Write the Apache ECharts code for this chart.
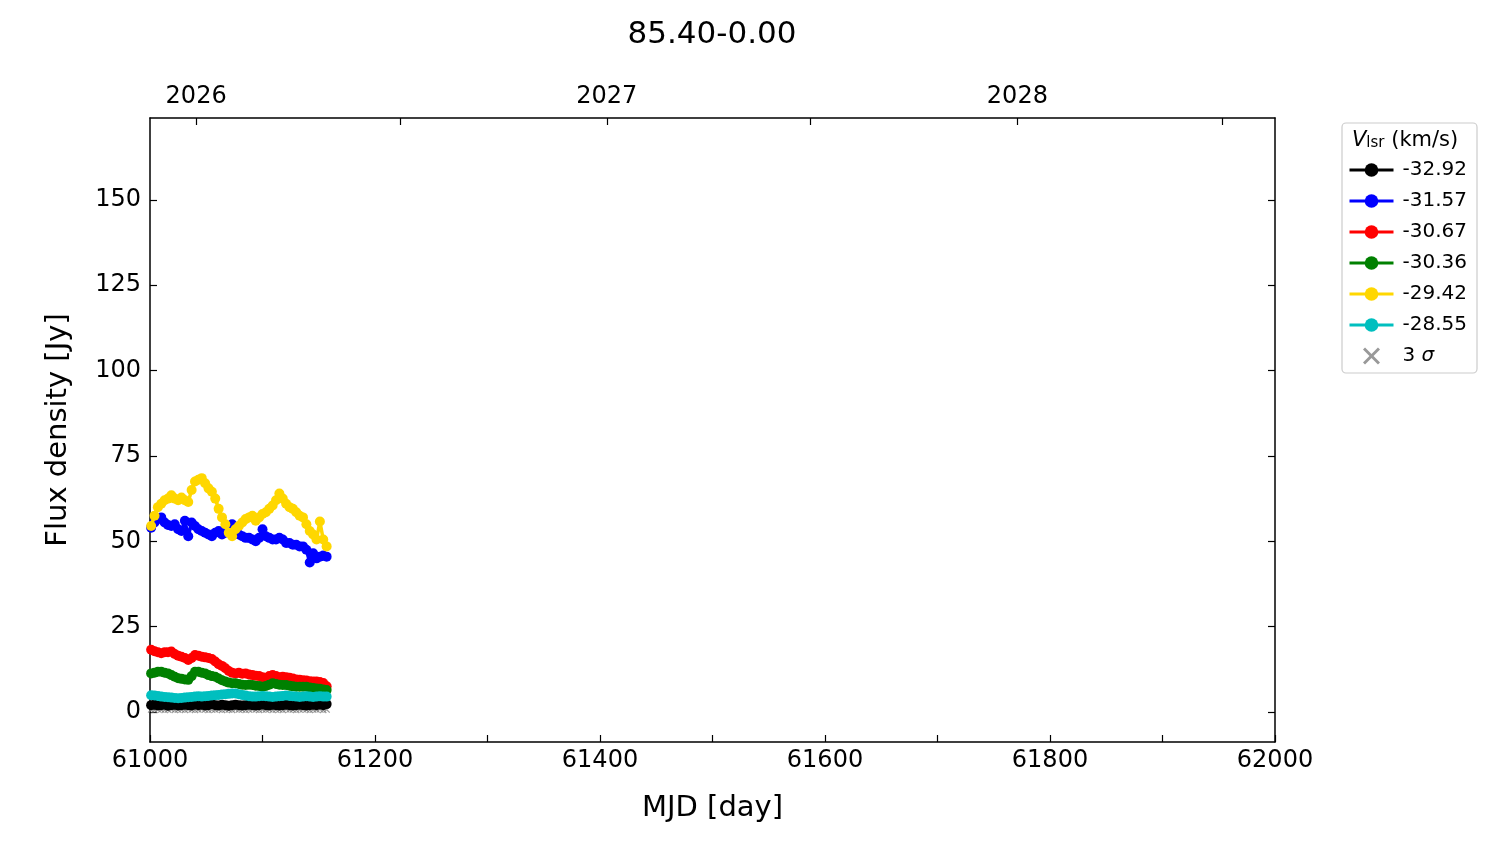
<!DOCTYPE html>
<html>
<head>
<meta charset="utf-8">
<script src="https://cdn.jsdelivr.net/npm/echarts@6/dist/echarts.min.js"></script>
<style>html,body{margin:0;padding:0;background:#fff;}#c{width:1500px;height:844px;}</style>
</head>
<body>
<div id="c"></div>
<script>
const mjd = [61001,61004,61007,61010,61013,61016,61019,61022,61025,61028,61031,61034,61037,61040,61043,61046,61049,61052,61055,61058,61061,61064,61067,61070,61073,61076,61079,61082,61085,61088,61091,61094,61097,61100,61103,61106,61109,61112,61115,61118,61121,61124,61127,61130,61133,61136,61139,61142,61145,61148,61151,61154,61157];

const v_m32_92 = [2.0,2.1,1.9,2.0,2.2,1.8,2.0,2.1,1.9,2.0,2.1,2.0,1.9,2.2,2.0,2.1,1.9,2.0,2.3,2.0,1.9,2.1,2.0,1.8,2.0,2.1,2.0,1.9,2.0,2.1,2.0,1.9,2.0,2.2,2.0,1.9,2.1,2.0,1.9,2.0,2.1,2.0,1.9,2.0,2.1,2.0,1.9,2.0,2.1,2.0,2.2,2.0,2.3];
const v_m31_57 = [54.0,55.5,56.5,57.0,55.5,54.8,54.5,55.0,53.5,53.0,56.0,51.5,55.5,54.5,53.5,53.0,52.5,52.0,51.5,52.5,53.0,52.0,52.5,54.5,55.0,53.0,52.0,51.5,51.0,51.0,50.5,50.0,51.0,53.5,51.5,51.0,50.5,50.5,51.0,50.5,49.5,49.5,49.0,49.0,48.5,48.5,47.5,43.8,46.5,45.0,45.5,45.8,45.5];
const v_m30_67 = [18.2,17.8,17.5,17.2,17.5,17.5,17.7,17.0,16.5,16.2,15.8,15.2,15.8,16.7,16.5,16.2,16.0,15.8,15.5,14.8,14.0,13.5,12.8,12.0,11.5,11.3,11.5,11.2,11.3,11.0,10.8,10.6,10.5,10.2,9.9,10.5,10.8,10.5,10.2,10.3,10.2,10.0,9.8,9.5,9.4,9.3,9.2,9.0,8.9,8.9,8.8,8.5,7.5];
const v_m30_36 = [11.3,11.5,11.8,11.8,11.5,11.3,10.8,10.3,9.9,9.7,9.5,9.4,10.5,11.8,11.8,11.5,11.3,10.8,10.5,10.3,9.8,9.3,8.9,8.6,8.4,8.4,8.2,8.0,7.9,8.0,7.9,7.7,7.6,7.4,7.6,8.0,8.4,8.2,8.0,7.9,7.9,7.7,7.5,7.4,7.4,7.4,7.4,7.2,7.0,6.9,6.8,6.6,6.4];
const v_m29_42 = [54.5,57.5,60.0,61.0,62.0,62.5,63.5,62.5,62.0,62.8,62.0,61.5,65.0,67.5,68.0,68.5,67.0,65.5,64.5,62.5,59.5,57.0,55.0,52.5,51.5,53.5,54.5,55.5,56.5,57.0,57.5,56.0,57.0,58.0,58.5,59.5,60.5,62.0,64.0,62.5,61.0,60.0,59.5,58.5,57.5,57.0,55.0,53.0,52.0,50.5,55.8,50.5,48.5];
const v_m28_55 = [4.9,4.8,4.7,4.5,4.4,4.3,4.2,4.1,4.0,4.1,4.2,4.3,4.4,4.5,4.6,4.5,4.6,4.7,4.8,4.9,5.0,5.1,5.2,5.3,5.4,5.4,5.2,5.0,4.8,4.6,4.5,4.5,4.6,4.7,4.6,4.5,4.4,4.5,4.6,4.7,4.8,4.7,4.6,4.5,4.4,4.5,4.6,4.5,4.4,4.5,4.6,4.5,4.5];
const sigma3 = [0.7,0.6,0.8,0.7,0.6,0.7,0.8,0.6,0.7,0.7,0.6,0.8,0.7,0.6,0.7,0.8,0.7,0.6,0.7,0.7,0.8,0.6,0.7,0.7,0.6,0.8,0.7,0.7,0.6,0.7,0.8,0.7,0.6,0.7,0.7,0.8,0.6,0.7,0.7,0.6,0.8,0.7,0.7,0.6,0.7,0.8,0.7,0.6,0.7,0.7,0.8,0.6,0.7];

const seriesNames = ['-32.92','-31.57','-30.67','-30.36','-29.42','-28.55'];
const seriesValues = [v_m32_92, v_m31_57, v_m30_67, v_m30_36, v_m29_42, v_m28_55];
const seriesColors = ['#000000','#0000ff','#ff0000','#008000','#ffd700','#00bfbf'];

const yTicks = [0,25,50,75,100,125,150];
const xLabelTicks = [61000,61200,61400,61600,61800,62000];
const yearTicks = [61041,61406,61771];
const yearLabels = ['2026','2027','2028'];
const halfYearTicks = [61222,61587,61953];

const FONT = 'DejaVu Sans';
const xSymbol = 'path://M0,1.2L1.2,0L5,3.8L8.8,0L10,1.2L6.2,5L10,8.8L8.8,10L5,6.2L1.2,10L0,8.8L3.8,5Z';

const chart = echarts.init(document.getElementById('c'), null, {renderer: 'canvas'});

const series = seriesNames.map((n, i) => ({
  name: n,
  type: 'line',
  xAxisIndex: 0, yAxisIndex: 0,
  data: mjd.map((x, j) => [x, seriesValues[i][j]]),
  symbol: 'circle',
  symbolSize: 10,
  showAllSymbol: true,
  color: seriesColors[i],
  lineStyle: {width: 3.5, color: seriesColors[i]},
  itemStyle: {color: seriesColors[i]},
  z: 3 + i,
  animation: false
}));
series.unshift({
  name: '3 \u03c3',
  type: 'scatter',
  xAxisIndex: 0, yAxisIndex: 0,
  data: mjd.map((x, j) => [x, sigma3[j]]),
  symbol: xSymbol,
  symbolSize: 7,
  symbolKeepAspect: true,
  color: '#808080',
  itemStyle: {color: '#808080'},
  z: 2,
  animation: false
});

const axisLineStyle = {show: true, onZero: false, lineStyle: {color: '#000', width: 1.5}};

chart.setOption({
  animation: false,
  backgroundColor: '#fff',
  textStyle: {fontFamily: FONT},
  title: {
    text: '85.40-0.00', left: 707, top: 14, textAlign: 'center',
    textStyle: {fontFamily: FONT, fontSize: 31, fontWeight: 'normal', color: '#000'}
  },
  grid: {left: 150, right: 225, top: 118, bottom: 102, containLabel: false},
  xAxis: [
    {
      type: 'value', position: 'bottom', min: 61000, max: 62000, interval: 100,
      name: 'MJD [day]', nameLocation: 'middle', nameGap: 52,
      nameTextStyle: {fontFamily: FONT, fontSize: 29, color: '#000'},
      axisLine: axisLineStyle,
      axisTick: {show: true, inside: true, length: 7, lineStyle: {color: '#000', width: 1.2}},
      axisLabel: {show: true, customValues: xLabelTicks, fontFamily: FONT, fontSize: 24, color: '#000', margin: 7,
        formatter: v => String(Math.round(v))},
      splitLine: {show: false}
    },
    {
      type: 'value', position: 'top', min: 61000, max: 62000,
      axisLine: axisLineStyle,
      axisTick: {show: true, inside: true, length: 7, customValues: yearTicks.concat(halfYearTicks), lineStyle: {color: '#000', width: 1.2}},
      axisLabel: {show: true, customValues: yearTicks, fontFamily: FONT, fontSize: 24, color: '#000', margin: 9,
        formatter: v => { const k = yearTicks.indexOf(Math.round(v)); return k >= 0 ? yearLabels[k] : ''; }},
      splitLine: {show: false}
    }
  ],
  yAxis: [
    {
      type: 'value', position: 'left', min: -8.8, max: 174,
      name: 'Flux density [Jy]', nameLocation: 'middle', nameGap: 77, nameRotate: 90,
      nameTextStyle: {fontFamily: FONT, fontSize: 29, color: '#000'},
      axisLine: axisLineStyle,
      axisTick: {show: true, inside: true, length: 7, customValues: yTicks, lineStyle: {color: '#000', width: 1.2}},
      axisLabel: {show: true, customValues: yTicks, fontFamily: FONT, fontSize: 24, color: '#000', margin: 9},
      splitLine: {show: false}
    },
    {
      type: 'value', position: 'right', min: -8.8, max: 174,
      axisLine: axisLineStyle,
      axisTick: {show: true, inside: true, length: 7, customValues: yTicks, lineStyle: {color: '#000', width: 1.2}},
      axisLabel: {show: false},
      splitLine: {show: false}
    }
  ],
  legend: {
    orient: 'vertical', left: 1348, top: 160, padding: 0,
    itemWidth: 44, itemHeight: 17, itemGap: 11,
    data: seriesNames.concat(['3 \u03c3']),
    lineStyle: {width: 3},
    textStyle: {fontFamily: FONT, fontSize: 20, color: '#000', lineHeight: 20, padding: [0,0,0,4],
      rich: {i: {fontFamily: FONT, fontSize: 20, fontStyle: 'italic', color: '#000', lineHeight: 20}}},
    formatter: n => n === '3 \u03c3' ? '3 {i|\u03c3}' : n,
    selectedMode: false
  },
  graphic: [
    {type: 'rect', z: -1, shape: {x: 1342, y: 123, width: 135, height: 250, r: 4},
     style: {fill: '#fff', stroke: '#cccccc', lineWidth: 1.2}},
    {type: 'text', left: 1352, top: 130, z: 10,
     style: {text: '{v|V}{s|lsr}{t| (km/s)}', fontFamily: FONT, fontSize: 20, fill: '#000',
       rich: {
         v: {fontFamily: FONT, fontSize: 21, fontStyle: 'italic', fill: '#000', verticalAlign: 'bottom', lineHeight: 26},
         s: {fontFamily: FONT, fontSize: 15, fill: '#000', verticalAlign: 'bottom', lineHeight: 20},
         t: {fontFamily: FONT, fontSize: 21, fill: '#000', verticalAlign: 'bottom', lineHeight: 26}
       }}}
  ],
  series: series
});
</script>
</body>
</html>
